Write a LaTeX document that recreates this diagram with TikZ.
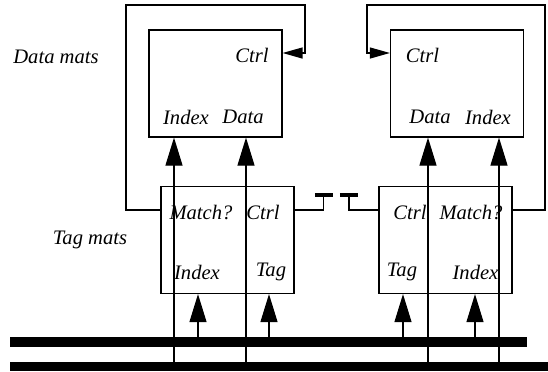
\documentclass[tikz,border=0pt]{standalone}
\usepackage{fontspec}
\setmainfont{Liberation Serif}
\usetikzlibrary{arrows.meta}
\begin{document}
\begin{tikzpicture}[x=0.5pt,y=-0.5pt,
  mat/.style={draw,line width=0.6pt,minimum width=66.5pt,minimum height=53.5pt,inner sep=0pt},
  lbl/.style={inner sep=0pt,font=\fontsize{10.3}{12}\itshape},
  wire/.style={line width=0.6pt},
  bigarrow/.style={line width=0.6pt,-{Triangle[length=14pt,width=8.5pt]}},
  ctrlarrow/.style={line width=0.6pt,-{Triangle[length=10pt,width=5.5pt]}},
  ctrlwire/.style={line width=0.9pt},
  tbar/.style={line width=1.6pt},
  bus/.style={fill=black,draw=none}]
\useasboundingbox (0,0) rectangle (548,371);
% boxes
\node[mat] (dl) at (215.5,83.5) {};
\node[mat] (dr) at (457,83.5) {};
\node[mat] (tl) at (227.5,240) {};
\node[mat] (tr) at (445.5,240) {};
% labels
\node[lbl] (dmats) at (56,57) {Data mats};
\node[lbl] (tmats) at (90,240) {Tag mats};
\node[lbl] (dlctrl) at (252,55) {Ctrl};
\node[lbl] (dlindex) at (186,117) {Index};
\node[lbl] (dldata) at (243,117) {Data};
\node[lbl] (drctrl) at (422.5,55) {Ctrl};
\node[lbl] (drdata) at (430,117) {Data};
\node[lbl] (drindex) at (488,117) {Index};
\node[lbl] (tlmatch) at (201,212) {Match?};
\node[lbl] (tlctrl) at (263,212) {Ctrl};
\node[lbl] (tlindex) at (197,272) {Index};
\node[lbl] (tltag) at (271,272) {Tag};
\node[lbl] (trctrl) at (410,212) {Ctrl};
\node[lbl] (trmatch) at (471,212) {Match?};
\node[lbl] (trtag) at (402,272) {Tag};
\node[lbl] (trindex) at (475.5,272) {Index};
% buses
\path[bus] (10,337) rectangle (527,347);
\path[bus] (10,362) rectangle (548,371);
\coordinate (busA) at (0,337);
\coordinate (busB) at (0,362);
% feedback loops
\draw[ctrlarrow] (tl.west |- 0,210) -- (126,210) -- (126,5) -- (305,5) -- (305,53) -- (dl.east |- 0,53);
\draw[ctrlarrow] (tr.east |- 0,210) -- (545,210) -- (545,5) -- (367,5) -- (367,53) -- (dr.west |- 0,53);
% ctrl wires with T caps
\draw[ctrlwire] (tl.east |- 0,210) -- (323.5,210) -- (323.5,195);
\draw[tbar] (315,195) -- (333,195);
\draw[ctrlwire] (tr.west |- 0,210) -- (349,210) -- (349,195);
\draw[tbar] (340,195) -- (358,195);
% long arrows from lower bus to data mats
\draw[bigarrow] (174,0 |- busB) -- (174,0 |- dl.south);
\draw[bigarrow] (246,0 |- busB) -- (246,0 |- dl.south);
\draw[bigarrow] (428,0 |- busB) -- (428,0 |- dr.south);
\draw[bigarrow] (499,0 |- busB) -- (499,0 |- dr.south);
% short arrows from upper bus to tag mats
\draw[bigarrow] (198,0 |- busA) -- (198,0 |- tl.south);
\draw[bigarrow] (269,0 |- busA) -- (269,0 |- tl.south);
\draw[bigarrow] (403,0 |- busA) -- (403,0 |- tr.south);
\draw[bigarrow] (475,0 |- busA) -- (475,0 |- tr.south);
\end{tikzpicture}
\end{document}
